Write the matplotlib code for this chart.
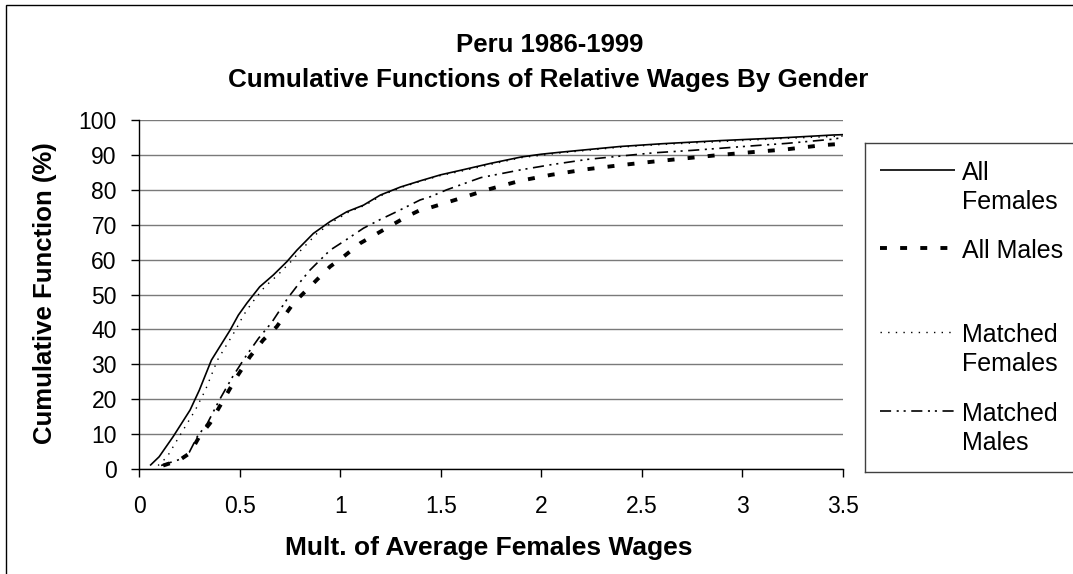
import numpy as np
import matplotlib
matplotlib.use("Agg")
import matplotlib.pyplot as plt
from matplotlib.patches import Rectangle

plt.rcParams['font.family'] = ['Liberation Sans', 'DejaVu Sans']
plt.rcParams['lines.scale_dashes'] = False

# --- data (x = multiple of avg female wage, y = cumulative %) ---
af_x = [0.055, 0.10, 0.17, 0.254, 0.30, 0.36, 0.453, 0.494, 0.536, 0.60, 0.668, 0.735,
        0.785, 0.867, 0.95, 1.033, 1.116, 1.2, 1.3, 1.4, 1.5, 1.6, 1.75, 1.9, 2.0,
        2.1, 2.39, 2.6, 2.89, 3.2, 3.45, 3.5]
af_y = [1.0, 3.5, 9.3, 16.9, 22.6, 31.2, 39.8, 44.1, 47.5, 52.2, 55.6, 59.4,
        62.7, 67.5, 70.9, 73.7, 75.6, 78.5, 80.8, 82.6, 84.3, 85.6, 87.6, 89.4, 90.2,
        90.8, 92.4, 93.2, 94.1, 94.9, 95.7, 95.8]

am_x = [0.12, 0.2, 0.254, 0.30, 0.353, 0.42, 0.486, 0.552, 0.618, 0.685, 0.768, 0.834,
        0.884, 0.95, 1.016, 1.1, 1.215, 1.33, 1.398, 1.448, 1.6, 1.73, 1.896, 2.05,
        2.227, 2.4, 2.56, 2.75, 2.89, 3.05, 3.22, 3.40, 3.5]
am_y = [1.0, 2.5, 4.6, 9.3, 13.1, 19.8, 26.4, 32.2, 37.0, 40.8, 47.5, 51.3,
        54.2, 58.0, 60.8, 64.7, 68.5, 72.3, 74.2, 74.9, 77.6, 80.0, 82.6, 84.3,
        85.9, 87.1, 88.1, 89.2, 90.0, 90.8, 91.6, 92.8, 93.2]

mf_x = [0.095, 0.14, 0.20, 0.28, 0.33, 0.39, 0.48, 0.52, 0.56, 0.625, 0.69, 0.755,
        0.805, 0.885, 0.965, 1.045, 1.125, 1.21, 1.31, 1.41, 1.5, 1.6, 1.75, 1.9, 2.1,
        2.39, 2.6, 2.89, 3.2, 3.5]
mf_y = [1.0, 3.5, 9.3, 16.9, 22.6, 31.2, 39.8, 44.1, 47.5, 52.2, 55.6, 59.4,
        62.7, 67.5, 70.9, 73.7, 75.6, 78.5, 80.8, 82.6, 84.1, 85.3, 87.3, 89.2, 90.6,
        92.2, 93.0, 93.8, 94.7, 95.4]

mm_x = [0.11, 0.2, 0.25, 0.29, 0.34, 0.40, 0.465, 0.53, 0.595, 0.66, 0.74, 0.80,
        0.85, 0.95, 1.02, 1.116, 1.2, 1.28, 1.398, 1.448, 1.53, 1.7, 1.896, 2.05,
        2.227, 2.4, 2.56, 2.75, 2.89, 3.05, 3.22, 3.45, 3.5]
mm_y = [1.0, 2.7, 4.8, 9.3, 13.1, 19.8, 26.4, 32.2, 37.5, 42.0, 49.0, 53.5,
        57.0, 62.7, 65.3, 69.0, 71.5, 73.7, 77.1, 78.0, 80.0, 83.5, 85.7, 87.2,
        88.7, 89.7, 90.6, 91.3, 91.9, 92.6, 93.3, 94.5, 95.0]

labels = ["All\nFemales", "All Males", "Matched\nFemales", "Matched\nMales"]
x_ticks = [0, 0.5, 1, 1.5, 2, 2.5, 3, 3.5]
x_tick_labels = ["0", "0.5", "1", "1.5", "2", "2.5", "3", "3.5"]
y_ticks = list(range(0, 101, 10))

# line styles: (linewidth, dash pattern or None for solid)
styles = [(1.2, None), (2.8, (5, 9.5)), (1.0, (1, 4.5)), (1.2, (8, 4, 1.5, 3.5, 1.5, 4))]
series = [(af_x, af_y), (am_x, am_y), (mf_x, mf_y), (mm_x, mm_y)]


def estilo(lw, dashes):
    kw = dict(color='black', lw=lw, solid_capstyle='butt', dash_capstyle='butt')
    if dashes is None:
        kw['ls'] = '-'
    else:
        kw['dashes'] = dashes
    return kw


W, H = 1073, 574
fig = plt.figure(figsize=(W / 100, H / 100), dpi=100)
fig.patch.set_facecolor('white')

ax = fig.add_axes([139 / W, 1 - 469 / H, (843 - 139) / W, (469 - 120) / H])

for (xs, ys), (lw, dashes) in zip(series, styles):
    ax.plot(xs, ys, **estilo(lw, dashes))

ax.set_xlim(0, 3.5)
ax.set_ylim(0, 100)
ax.set_xticks(x_ticks)
ax.set_xticklabels(x_tick_labels)
ax.set_yticks(y_ticks)
ax.yaxis.grid(True, color='#7a7a7a', lw=1)
ax.set_axisbelow(True)
for s in ['top', 'right']:
    ax.spines[s].set_visible(False)
for s in ['left', 'bottom']:
    ax.spines[s].set_color('black')
    ax.spines[s].set_linewidth(1)
ax.tick_params(axis='x', direction='out', length=6, width=1, pad=13, labelsize=16.5)
ax.tick_params(axis='y', direction='out', length=6, width=1, pad=10, labelsize=16.5)

# titles and axis labels
fig.text(550 / W, 1 - 52 / H, "Peru 1986-1999", ha='center', va='baseline',
         fontsize=18.5, fontweight='bold')
fig.text(548 / W, 1 - 87 / H, "Cumulative Functions of Relative Wages By Gender",
         ha='center', va='baseline', fontsize=18.7, fontweight='bold')
fig.text(489 / W, 1 - 555 / H, "Mult. of Average Females Wages", ha='center',
         va='baseline', fontsize=19, fontweight='bold')
fig.text(45 / W, 1 - 293 / H, "Cumulative Function (%)", ha='center', va='center',
         rotation=90, fontsize=18.5, fontweight='bold')

# legend box drawn by hand (Excel style: handle level with the first text line)
lax = fig.add_axes([865 / W, 1 - 472 / H, (1090 - 865) / W, (472 - 143) / H])
lax.set_xlim(865, 1090)
lax.set_ylim(472, 143)
lax.set_xticks([])
lax.set_yticks([])
for s in lax.spines.values():
    s.set_color('#404040')
    s.set_linewidth(1)
rows = [170, 248, 332, 411]
for (lw, dashes), lab, yr in zip(styles, labels, rows):
    lax.plot([880, 955], [yr, yr], **estilo(lw, dashes))
    for i, parte in enumerate(lab.split("\n")):
        lax.text(962, yr + 10 + 29 * i, parte, ha='left', va='baseline', fontsize=18)

# thin frame around the chart area (left and top edges visible in the reference)
fig.patches.append(Rectangle((6 / W, -0.1), 2, 1.1 - 5 / H, transform=fig.transFigure,
                             fill=False, edgecolor='black', lw=1))

fig.savefig("out.png", dpi=100)
